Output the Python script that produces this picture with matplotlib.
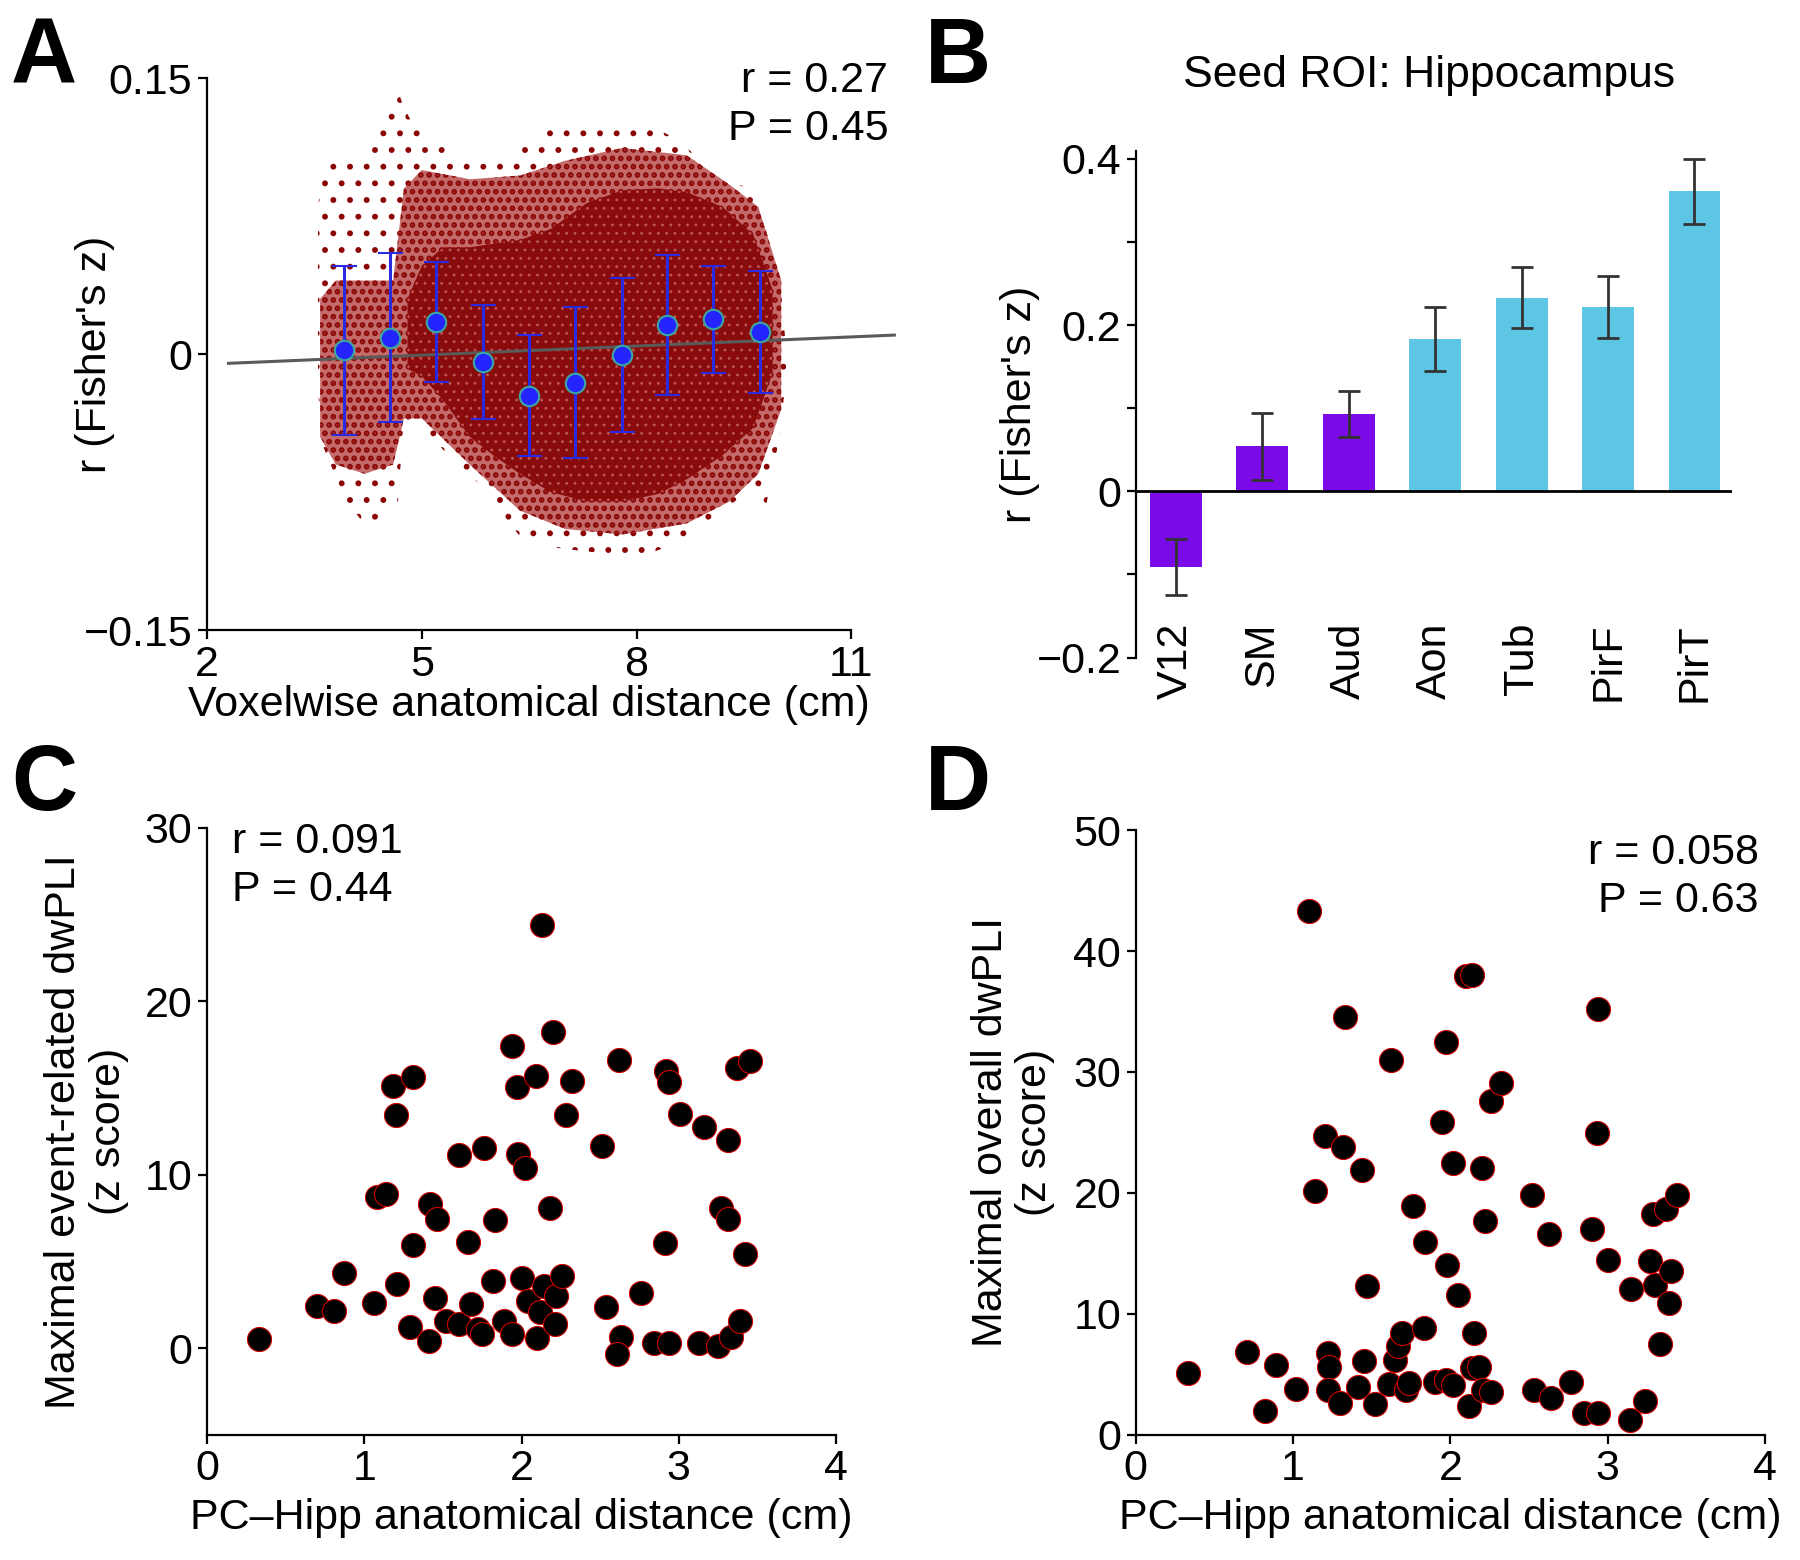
import matplotlib
matplotlib.use('Agg')
import matplotlib.pyplot as plt
import numpy as np

plt.rcParams['font.family'] = ['Liberation Sans', 'DejaVu Sans']
plt.rcParams['font.size'] = 31
plt.rcParams['axes.linewidth'] = 1.6
plt.rcParams['xtick.major.width'] = 1.6
plt.rcParams['ytick.major.width'] = 1.6
plt.rcParams['xtick.major.size'] = 6.5
plt.rcParams['ytick.major.size'] = 6.5
plt.rcParams['xtick.labelsize'] = 31
plt.rcParams['ytick.labelsize'] = 31

# ---------------- Panel A data ----------------
# envelope of the voxel cloud (sparse outer region)
cloud_sparse_x = [3.55, 3.62, 3.93, 4.25, 4.42, 4.66, 4.74, 4.90, 5.14, 5.30, 5.54, 5.95, 6.19, 6.35,
                  6.43, 6.75, 6.83, 7.48, 7.56, 7.96, 8.00, 8.60, 8.76, 9.09, 9.17, 9.57, 9.81, 10.01, 10.09]
cloud_sparse_up = [0.079, 0.105, 0.105, 0.110, 0.125, 0.144, 0.135, 0.123, 0.118, 0.115, 0.105, 0.103,
                   0.105, 0.110, 0.115, 0.121, 0.123, 0.125, 0.125, 0.127, 0.128, 0.116, 0.110, 0.093,
                   0.093, 0.091, 0.067, 0.037, 0.002]
cloud_sparse_lo = [-0.020, -0.050, -0.079, -0.095, -0.090, -0.084, -0.040, -0.040, -0.045, -0.052,
                   -0.062, -0.075, -0.090, -0.098, -0.100, -0.104, -0.105, -0.108, -0.109, -0.112,
                   -0.111, -0.102, -0.097, -0.088, -0.086, -0.074, -0.082, -0.042, -0.010]
# medium-density region
cloud_mid_x = [3.58, 3.80, 4.20, 4.60, 4.75, 5.00, 5.67, 6.37, 7.00, 7.80, 8.70, 9.30, 9.70, 10.02]
cloud_mid_up = [0.030, 0.040, 0.040, 0.040, 0.090, 0.100, 0.095, 0.097, 0.105, 0.112, 0.108, 0.092, 0.080, 0.040]
cloud_mid_lo = [-0.045, -0.060, -0.065, -0.060, -0.035, -0.035, -0.060, -0.085, -0.095, -0.098, -0.092, -0.080, -0.065, -0.030]
# dense core
cloud_dense_x = [4.80, 5.00, 5.30, 5.67, 6.00, 6.37, 6.80, 7.30, 7.80, 8.30, 8.70, 9.20, 9.63, 9.90]
cloud_dense_up = [0.030, 0.048, 0.058, 0.058, 0.060, 0.062, 0.068, 0.082, 0.089, 0.090, 0.088, 0.080, 0.065, 0.035]
cloud_dense_lo = [-0.008, -0.012, -0.025, -0.045, -0.055, -0.065, -0.075, -0.080, -0.080, -0.076, -0.068, -0.055, -0.040, -0.010]

bin_x = [3.91, 4.56, 5.20, 5.85, 6.50, 7.14, 7.79, 8.43, 9.07, 9.72]
bin_mean = [0.002, 0.009, 0.0175, -0.0045, -0.0225, -0.0155, -0.0005, 0.0158, 0.019, 0.012]
bin_err = [0.046, 0.046, 0.0325, 0.031, 0.033, 0.041, 0.042, 0.038, 0.029, 0.033]
fit_slope = 0.00165
fit_intercept = -0.0088
fit_range = [2.3, 11.6]

# ---------------- Panel B data ----------------
roi_labels = ['V12', 'SM', 'Aud', 'Aon', 'Tub', 'PirF', 'PirT']
roi_values = [-0.091, 0.054, 0.093, 0.1835, 0.233, 0.222, 0.361]
roi_errors = [0.034, 0.040, 0.028, 0.0385, 0.037, 0.037, 0.039]
roi_group = ['nonolf', 'nonolf', 'nonolf', 'olf', 'olf', 'olf', 'olf']
group_colors = {'nonolf': '#7a0ae8', 'olf': '#5cc6e4'}

# ---------------- Panel C data ----------------
c_dist = [0.33, 0.70, 0.81, 0.87, 1.06, 1.08, 1.14, 1.18, 1.20, 1.21, 1.29, 1.31, 1.31, 1.41, 1.42,
          1.46, 1.45, 1.52, 1.60, 1.60, 1.66, 1.68, 1.72, 1.75, 1.76, 1.82, 1.83, 1.89, 1.94, 1.94,
          1.97, 1.98, 2.00, 2.02, 2.04, 2.09, 2.10, 2.12, 2.13, 2.14, 2.18, 2.20, 2.21, 2.22, 2.26,
          2.28, 2.32, 2.51, 2.54, 2.62, 2.63, 2.61, 2.76, 2.84, 2.91, 2.92, 2.94, 2.94, 3.01, 3.13,
          3.16, 3.25, 3.27, 3.31, 3.31, 3.33, 3.37, 3.39, 3.42, 3.45]
c_dwpli = [0.50, 2.43, 2.13, 4.30, 2.61, 8.69, 8.90, 15.12, 13.43, 3.71, 1.19, 5.93, 15.63, 0.42, 8.30,
           7.47, 2.91, 1.54, 1.39, 11.12, 6.14, 2.52, 1.10, 0.80, 11.56, 3.85, 7.41, 1.54, 0.80, 17.43,
           15.06, 11.21, 4.06, 10.38, 2.73, 15.71, 0.59, 2.08, 24.40, 3.56, 8.09, 18.23, 1.39, 3.02, 4.15,
           13.43, 15.42, 11.65, 2.37, 16.60, 0.65, -0.36, 3.20, 0.30, 6.08, 15.95, 0.30, 15.33, 13.49, 0.30,
           12.75, 0.09, 8.06, 12.01, 7.47, 0.65, 16.16, 1.54, 5.40, 16.55]

# ---------------- Panel D data ----------------
d_dist = [1.10, 0.33, 0.71, 0.89, 0.82, 1.02, 1.14, 1.20, 1.22, 1.23, 1.22, 1.32, 1.30, 1.33, 1.41,
          1.44, 1.45, 1.47, 1.52, 1.61, 1.62, 1.65, 1.67, 1.69, 1.72, 1.74, 1.76, 1.83, 1.84, 1.90,
          1.95, 1.97, 1.97, 1.98, 2.02, 2.02, 2.05, 2.10, 2.14, 2.12, 2.14, 2.15, 2.18, 2.20, 2.22,
          2.21, 2.26, 2.26, 2.32, 2.52, 2.53, 2.63, 2.64, 2.77, 2.85, 2.90, 2.94, 2.94, 2.93, 3.00,
          3.14, 3.15, 3.24, 3.27, 3.29, 3.30, 3.33, 3.37, 3.39, 3.40, 3.44]
d_dwpli = [43.31, 5.10, 6.81, 5.76, 1.98, 3.78, 20.19, 24.68, 6.73, 5.63, 3.66, 23.76, 2.61, 34.57, 3.95,
           21.87, 6.06, 12.28, 2.52, 4.21, 30.99, 6.18, 7.32, 8.41, 3.66, 4.29, 18.92, 8.79, 15.94, 4.37,
           25.90, 32.46, 4.50, 14.05, 4.08, 22.46, 11.52, 37.93, 38.02, 2.40, 5.55, 8.41, 5.63, 22.08, 17.66,
           3.66, 3.53, 27.63, 29.10, 19.85, 3.66, 16.61, 3.03, 4.37, 1.77, 16.99, 1.77, 35.20, 24.98, 14.47,
           1.22, 12.07, 2.82, 14.38, 18.25, 12.36, 7.53, 18.67, 10.93, 13.54, 19.85]

fig = plt.figure(figsize=(18, 15.6), dpi=100)

def style(ax):
    ax.spines['top'].set_visible(False)
    ax.spines['right'].set_visible(False)
    ax.tick_params(direction='out', pad=4, colors='black')

# ================= Panel A =================
axA = fig.add_axes([0.115, 0.596, 0.358, 0.354])
style(axA)
red = '#8b0505'
with plt.rc_context({'hatch.linewidth': 1.8, 'hatch.color': red}):
    axA.fill_between(cloud_sparse_x, cloud_sparse_lo, cloud_sparse_up, facecolor='none',
                     edgecolor=red, hatch='.', linewidth=0, zorder=1)
with plt.rc_context({'hatch.linewidth': 2.8, 'hatch.color': red}):
    axA.fill_between(cloud_mid_x, cloud_mid_lo, cloud_mid_up, facecolor='#c46a6a',
                     edgecolor=red, hatch='..', linewidth=0, zorder=2)
speck = '#bb5555'
with plt.rc_context({'hatch.linewidth': 0.9, 'hatch.color': speck}):
    axA.fill_between(cloud_dense_x, cloud_dense_lo, cloud_dense_up, facecolor='#8a0b0b',
                     edgecolor=speck, hatch='..', linewidth=0, zorder=3)
fx = np.array(fit_range)
axA.plot(fx, fit_slope * fx + fit_intercept, color='#5a5a5a', lw=2.2, zorder=4, clip_on=False)
axA.errorbar(bin_x, bin_mean, yerr=bin_err, fmt='o', color='#2a2ae0', ecolor='#2a2ae0',
             elinewidth=2.2, capsize=9, capthick=2.2, markersize=14,
             markerfacecolor='#2424ff', markeredgecolor='#3aa89c', markeredgewidth=1.5, zorder=5)
axA.set_xlim(2, 11)
axA.set_ylim(-0.15, 0.15)
axA.set_xticks([2, 5, 8, 11])
axA.set_yticks([-0.15, 0, 0.15])
axA.set_yticklabels(['\u22120.15', '0', '0.15'])
axA.set_xlabel('Voxelwise anatomical distance (cm)', labelpad=0)
axA.set_ylabel("r (Fisher's z)")
axA.yaxis.set_label_coords(-0.143, 0.5)
axA.text(1.057, 1.03, 'r = 0.27\nP = 0.45', transform=axA.transAxes, ha='right', va='top',
         fontsize=31, linespacing=1.25)

# ================= Panel B =================
axB = fig.add_axes([0.631, 0.5785, 0.331, 0.325])
style(axB)
axB.spines['bottom'].set_visible(False)
xb = np.arange(len(roi_labels))
axB.bar(xb, roi_values, width=0.6, color=[group_colors[g] for g in roi_group],
        edgecolor='none', zorder=2)
axB.errorbar(xb, roi_values, yerr=roi_errors, fmt='none', ecolor='#333333', elinewidth=2,
             capsize=8, capthick=2, zorder=3)
axB.axhline(0, color='black', lw=2, zorder=4)
axB.set_xlim(-0.465, 6.43)
axB.set_ylim(-0.2, 0.41)
axB.set_yticks([-0.2, 0, 0.2, 0.4])
axB.set_yticklabels(['\u22120.2', '0', '0.2', '0.4'])
axB.set_yticks([-0.1, 0.1, 0.3], minor=True)
axB.tick_params(axis='y', which='minor', length=6.5, width=1.6)
axB.set_xticks(xb)
axB.set_xticklabels(roi_labels, rotation=90)
axB.tick_params(axis='x', length=0, pad=-25)
axB.set_ylabel("r (Fisher's z)")
axB.yaxis.set_label_coords(-0.16, 0.5)
fig.text(0.794, 0.965, 'Seed ROI: Hippocampus', ha='center', va='top', fontsize=32)

# ================= Panel C =================
axC = fig.add_axes([0.115, 0.0803, 0.3495, 0.389])
style(axC)
axC.scatter(c_dist, c_dwpli, s=300, facecolor='black', edgecolor='#d00000', linewidth=0.8, zorder=3)
axC.set_xlim(0, 4)
axC.set_ylim(-5, 30)
axC.set_xticks([0, 1, 2, 3, 4])
axC.set_yticks([0, 10, 20, 30])
axC.set_xlabel('PC\u2013Hipp anatomical distance (cm)', labelpad=6)
axC.set_ylabel('Maximal event-related dwPLI\n(z score)', linespacing=1.15)
axC.yaxis.set_label_coords(-0.124, 0.5)
axC.text(0.04, 1.01, 'r = 0.091\nP = 0.44', transform=axC.transAxes, ha='left', va='top',
         fontsize=31, linespacing=1.25)

# ================= Panel D =================
axD = fig.add_axes([0.631, 0.0803, 0.3495, 0.3876])
style(axD)
axD.scatter(d_dist, d_dwpli, s=300, facecolor='black', edgecolor='#d00000', linewidth=0.8, zorder=3)
axD.set_xlim(0, 4)
axD.set_ylim(0, 50)
axD.set_xticks([0, 1, 2, 3, 4])
axD.set_yticks([0, 10, 20, 30, 40, 50])
axD.set_xlabel('PC\u2013Hipp anatomical distance (cm)', labelpad=6)
axD.set_ylabel('Maximal overall dwPLI\n(z score)', linespacing=1.15)
axD.yaxis.set_label_coords(-0.128, 0.5)
axD.text(0.99, 0.995, 'r = 0.058\nP = 0.63', transform=axD.transAxes, ha='right', va='top',
         fontsize=31, linespacing=1.25)

# panel letters
for lab, x, y in [('A', 0.006, 0.99), ('B', 0.514, 0.99), ('C', 0.006, 0.524), ('D', 0.514, 0.524)]:
    fig.text(x, y, lab, fontsize=66, fontweight='bold', ha='left', va='top')

fig.savefig('out.png', dpi=100)
